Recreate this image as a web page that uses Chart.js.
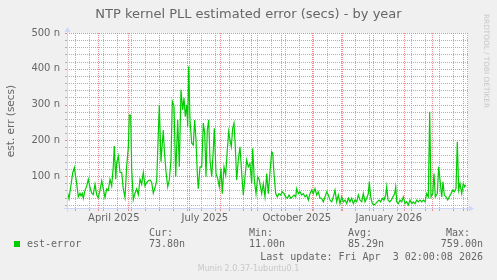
<!DOCTYPE html>
<html><head><meta charset="utf-8">
<script src="https://cdn.jsdelivr.net/npm/chart.js@4/dist/chart.umd.min.js"></script>
<style>
html,body{margin:0;padding:0;background:#f0f0f0;width:497px;height:280px;overflow:hidden;}
#wrap{position:relative;width:497px;height:280px;}
canvas{position:absolute;left:0;top:0;}
.t{position:absolute;white-space:pre;color:#666;font-family:"DejaVu Sans";}
.m{position:absolute;white-space:pre;color:#666;font-family:"DejaVu Sans Mono";font-size:10px;line-height:12px;}
</style></head>
<body><div id="wrap">
<canvas id="c" width="497" height="280"></canvas>
<div class="t" style="left:0;width:497px;text-align:center;top:6px;font-size:13px;line-height:15px;">NTP kernel PLL estimated error (secs) - by year</div>
<div class="t" style="left:482px;top:14px;font-size:7.3px;line-height:9px;writing-mode:vertical-rl;color:#c8c8c8;">RRDTOOL / TOBI OETIKER</div>
<div style="position:absolute;left:14px;top:241px;width:6px;height:6px;background:#00cc00"></div>
<div class="m" style="left:27px;top:238px">est-error</div>
<div class="m" style="left:149px;top:227px">Cur:</div>
<div class="m" style="left:249px;top:227px">Min:</div>
<div class="m" style="left:348px;top:227px">Avg:</div>
<div class="m" style="right:27px;top:227px">Max:</div>
<div class="m" style="left:149px;top:238px">73.80n</div>
<div class="m" style="left:249px;top:238px">11.00n</div>
<div class="m" style="left:348px;top:238px">85.29n</div>
<div class="m" style="right:14px;top:238px">759.00n</div>
<div class="m" style="right:14px;top:251px">Last update: Fri Apr  3 02:00:08 2026</div>
<div class="t" style="left:0;width:497px;text-align:center;top:264px;font-size:8px;line-height:10px;color:#c8c8c8;">Munin 2.0.37-1ubuntu0.1</div>
</div>
<script>
// days since 2025-01-01
const days = [59.0,60.7,62.7,64.4,66.0,67.4,68.4,70.0,71.7,72.7,74.0,75.0,76.7,78.4,80.0,81.7,83.4,85.0,86.7,88.4,90.0,91.7,93.4,95.0,96.7,98.4,100.0,101.7,103.4,105.0,106.0,107.4,108.4,110.0,111.7,113.4,115.0,116.7,118.4,120.0,121.0,122.4,123.4,125.0,126.7,128.4,130.0,131.7,133.4,135.0,136.7,138.4,140.0,141.7,143.4,145.0,146.7,148.4,151.0,152.7,154.0,155.0,156.0,157.7,159.4,161.0,162.7,164.0,165.7,167.4,168.4,169.4,171.0,172.7,174.4,175.7,177.0,178.4,179.4,180.4,181.7,183.4,185.0,186.4,187.7,189.0,190.0,191.7,193.4,195.0,196.4,197.7,199.0,200.4,201.7,203.4,205.0,206.0,207.7,209.4,211.0,212.7,214.0,215.7,217.4,219.0,220.4,221.7,223.0,224.4,225.7,227.0,228.4,230.0,231.7,233.4,235.0,236.7,238.4,240.0,241.7,243.4,244.4,246.0,247.7,249.4,251.0,
253.4,255.0,256.7,258.4,260.0,261.7,263.4,264.4,265.7,267.4,269.0,270.7,272.4,274.0,275.7,277.4,279.0,280.7,282.4,284.0,285.7,287.4,288.4,290.0,291.7,293.4,295.0,296.7,298.4,300.0,301.7,303.4,305.0,306.7,308.4,310.0,311.7,313.4,315.0,316.7,318.4,320.0,321.7,323.4,325.0,326.7,328.4,330.0,331.7,333.4,335.0,336.7,338.4,340.0,341.7,343.4,345.0,346.7,348.4,350.0,351.7,353.4,355.0,356.7,358.4,360.0,361.0,362.4,364.0,365.7,367.4,369.0,370.7,372.4,374.0,375.7,377.4,378.4,379.7,381.4,383.0,384.7,386.4,387.4,388.4,390.0,391.7,393.4,395.0,396.7,398.4,400.0,401.7,403.4,405.0,406.7,408.4,410.0,411.7,413.4,415.0,416.7,418.4,420.0,421.4,422.7,424.4,425.7,427.0,429.0,430.4,431.7,433.4,434.7,436.0,437.7,439.4,441.0,442.7,444.4,446.0,447.7,449.0,450.4,451.7,453.4,455.0,456.4,457.4];
// estimated error, nanoseconds
const errNs = [56,37,75,109,124,98,79,42,52,45,52,38,60,72,91,68,52,48,77,48,40,60,87,64,40,64,60,91,72,128,184,91,138,156,110,110,64,40,128,180,271,270,118,34,52,64,48,91,77,110,72,82,87,89,82,52,68,87,299,140,192,229,173,112,70,89,145,309,295,98,182,257,126,341,285,318,266,299,238,407,257,192,187,257,201,107,65,126,126,248,220,98,229,257,145,98,173,234,107,93,70,121,51,126,103,173,224,201,182,234,248,182,89,145,182,107,47,98,145,126,135,79,178,89,51,98,89,
51,79,42,107,51,112,168,164,107,51,42,51,47,56,51,42,38,47,38,42,47,42,65,51,56,47,51,42,47,33,51,61,51,65,47,56,38,38,28,42,56,47,33,28,42,61,28,47,23,42,28,33,23,38,28,38,23,33,28,47,33,28,51,28,38,51,84,42,23,19,23,28,33,28,38,33,47,70,33,28,33,42,51,70,28,23,33,28,42,23,28,19,33,23,28,23,33,28,33,28,33,28,51,42,280,42,51,107,42,51,126,89,42,84,47,42,33,42,51,61,56,65,196,61,79,51,79,70,75];

const X_MIN = 58.7, X_MAX = 459.7;
const Y_MIN = 8, Y_MAX = 500;
const monthStarts = [59,90,120,151,181,212,243,273,304,334,365,396,424,455];
const labelDays = [105.5,196.5,288.5,380.5];
const labelTexts = ['April 2025','July 2025','October 2025','January 2026'];
const firstWeekLine = 67, weekLineStep = 14;
const yMinorStep = 20, yMajorStep = 100;

const GRID = 'rgb(176,176,176)';
const MGRID = 'rgb(235,140,140)';

const weekLines = [];
for (let d = firstWeekLine; d <= X_MAX; d += weekLineStep) weekLines.push(d);
const yLines = [];
for (let v = yMinorStep; v <= Y_MAX; v += yMinorStep) yLines.push(v);

const munin = {
  id:'munin',
  beforeDraw(chart){
    const {ctx, chartArea:a} = chart;
    ctx.save(); ctx.fillStyle = '#ffffff';
    ctx.fillRect(a.left, a.top, a.right - a.left, a.bottom - a.top);
    ctx.restore();
  },
  beforeDatasetsDraw(chart){
    const {ctx, chartArea:a, scales} = chart;
    const sx = scales.x, sy = scales.y;
    const L = Math.round(a.left), R = Math.round(a.right), T = Math.round(a.top), B = Math.round(a.bottom);
    ctx.save();
    ctx.lineWidth = 1;
    ctx.setLineDash([1, 1]);
    const vline = (v, col) => {
      const px = Math.round(sx.getPixelForValue(v));
      if (px < L || px >= R) return;
      ctx.strokeStyle = col;
      ctx.beginPath(); ctx.moveTo(px + 0.5, T); ctx.lineTo(px + 0.5, B); ctx.stroke();
      ctx.fillStyle = col; ctx.fillRect(px, B, 1, 2);
    };
    const hline = (v, col) => {
      const py = Math.round(sy.getPixelForValue(v));
      if (py < T || py >= B) return;
      ctx.strokeStyle = col;
      ctx.beginPath(); ctx.moveTo(L, py + 0.5); ctx.lineTo(R, py + 0.5); ctx.stroke();
      ctx.fillStyle = col; ctx.fillRect(L - 2, py, 2, 1);
    };
    yLines.filter(v => v % yMajorStep !== 0).forEach(v => hline(v, GRID));
    weekLines.forEach(d => vline(d, GRID));
    yLines.filter(v => v % yMajorStep === 0).forEach(v => hline(v, MGRID));
    monthStarts.forEach(d => vline(d, MGRID));
    ctx.restore();
  },
  afterDraw(chart){
    const {ctx, chartArea:a} = chart;
    const ax = Math.round(a.left) + 0.5, ay = Math.round(a.bottom) - 0.5;
    ctx.save();
    ctx.strokeStyle = '#cfd6f8'; ctx.fillStyle = '#cfd6f8'; ctx.lineWidth = 1;
    ctx.beginPath();
    ctx.moveTo(a.left - 3, ay); ctx.lineTo(a.right + 2, ay);
    ctx.moveTo(ax, a.bottom + 3); ctx.lineTo(ax, a.top - 2);
    ctx.stroke();
    ctx.beginPath();
    ctx.moveTo(a.right + 6, ay); ctx.lineTo(a.right + 1, ay - 3); ctx.lineTo(a.right + 1, ay + 3); ctx.closePath();
    ctx.moveTo(ax, a.top - 6); ctx.lineTo(ax - 3, a.top - 1); ctx.lineTo(ax + 3, a.top - 1); ctx.closePath();
    ctx.fill();
    ctx.restore();
  }
};

new Chart(document.getElementById('c'), {
  type:'line',
  data:{datasets:[{
    label:'est-error',
    data: days.map((d,i) => ({x:d, y:errNs[i]})),
    borderColor:'#00cc00', borderWidth:1.2, pointRadius:0, tension:0, fill:false
  }]},
  options:{
    responsive:false, animation:false, devicePixelRatio:1,
    layout:{padding:{left:0, top:33, right:29, bottom:0}},
    plugins:{legend:{display:false}, tooltip:{enabled:false}, title:{display:false}},
    scales:{
      x:{
        type:'linear', min:X_MIN, max:X_MAX,
        afterFit(s){ s.height = 71; },
        afterBuildTicks(s){ s.ticks = labelDays.map((d,i) => ({value:d, text:labelTexts[i]})); },
        grid:{display:false, drawTicks:false},
        border:{display:false},
        ticks:{autoSkip:false, maxRotation:0, minRotation:0, padding:3, color:'#666',
          font:{family:'DejaVu Sans', size:10},
          callback:(v,i,ts) => ts[i] ? ts[i].text : ''}
      },
      y:{
        type:'linear', min:Y_MIN, max:Y_MAX,
        afterFit(s){ s.width = 67; },
        afterBuildTicks(s){ s.ticks = yLines.filter(v => v % yMajorStep === 0).map(v => ({value:v})); },
        grid:{display:false, drawTicks:false},
        border:{display:false},
        ticks:{autoSkip:false, padding:7, color:'#666', font:{family:'DejaVu Sans', size:10},
          callback:v => v + ' n'},
        title:{display:true, text:'est. err (secs)', color:'#666', font:{family:'DejaVu Sans', size:10.5}, padding:{top:5, bottom:0}}
      }
    }
  },
  plugins:[munin]
});
</script>
</body></html>
